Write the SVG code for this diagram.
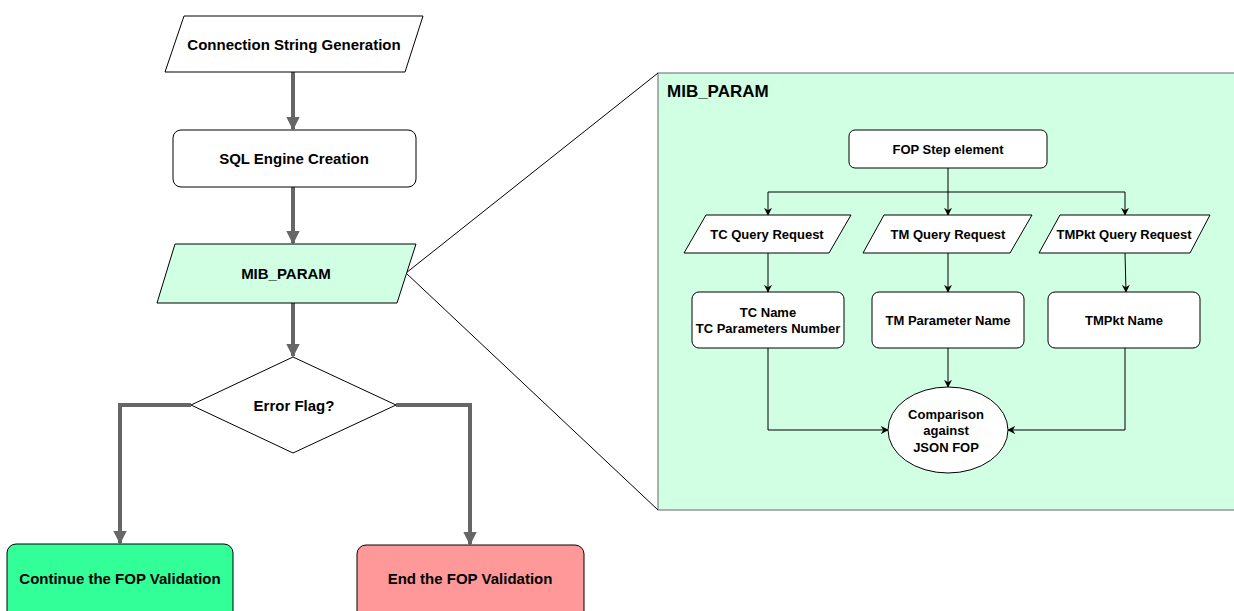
<svg xmlns="http://www.w3.org/2000/svg" width="1234" height="611" viewBox="0 0 1234 611">
  <style>
    .lbl { font-family: "Liberation Sans", Arial, sans-serif; font-weight: bold; fill: #000; text-anchor: middle; dominant-baseline: central; }
    .big { font-size: 15px; }
    .small { font-size: 13px; }
    .node { stroke: #000; stroke-width: 1; }
    .flow { fill: none; stroke: #666; stroke-width: 4; }
    .thin { fill: none; stroke: #000; stroke-width: 1; }
  </style>
  <defs>
    <marker id="thick" viewBox="0 0 10 10" refX="9" refY="5" markerWidth="3.4" markerHeight="3.4" markerUnits="strokeWidth" orient="auto">
      <path d="M0,0 L10,5 L0,10 Z" fill="#666"/>
    </marker>
    <marker id="small" viewBox="0 0 10 10" refX="9" refY="5" markerWidth="8" markerHeight="8" markerUnits="userSpaceOnUse" orient="auto">
      <path d="M0,0 L10,5 L0,10 L3,5 Z" fill="#000"/>
    </marker>
  </defs>
  <rect width="1234" height="611" fill="#fff"/>

  <!-- zoom panel (right edge runs off the canvas) -->
  <g id="panel">
    <rect x="658" y="73" width="590" height="437" fill="#d0ffe4" stroke="#666" stroke-width="1"/>
    <text class="lbl" x="667" y="91" style="font-size:17px;text-anchor:start">MIB_PARAM</text>
  </g>
  <g id="zoom-lines">
    <line x1="406" y1="273" x2="658" y2="73" stroke="#000" stroke-width="1"/>
    <line x1="406" y1="273" x2="658" y2="510" stroke="#000" stroke-width="1"/>
  </g>

  <!-- main flow connectors -->
  <g id="connectors">
    <line class="flow" x1="293" y1="72" x2="293" y2="129" marker-end="url(#thick)"/>
    <line class="flow" x1="293" y1="187" x2="293" y2="243" marker-end="url(#thick)"/>
    <line class="flow" x1="293" y1="303" x2="293" y2="356" marker-end="url(#thick)"/>
    <polyline class="flow" points="191,405 120,405 120,543" marker-end="url(#thick)"/>
    <polyline class="flow" points="396,405 470,405 470,544" marker-end="url(#thick)"/>

    <!-- panel connectors -->
    <line class="thin" x1="948" y1="168" x2="948" y2="192"/>
    <polyline class="thin" points="768,192 1125,192"/>
    <line class="thin" x1="768" y1="192" x2="768" y2="215" marker-end="url(#small)"/>
    <line class="thin" x1="948" y1="192" x2="948" y2="215" marker-end="url(#small)"/>
    <line class="thin" x1="1125" y1="192" x2="1125" y2="215" marker-end="url(#small)"/>
    <line class="thin" x1="768" y1="253" x2="768" y2="292" marker-end="url(#small)"/>
    <line class="thin" x1="948" y1="253" x2="948" y2="292" marker-end="url(#small)"/>
    <line class="thin" x1="1125" y1="253" x2="1126" y2="292" marker-end="url(#small)"/>
    <line class="thin" x1="948" y1="348" x2="948" y2="387" marker-end="url(#small)"/>
    <polyline class="thin" points="768,348 768,430 888,430" marker-end="url(#small)"/>
    <polyline class="thin" points="1125,348 1125,430 1008,430" marker-end="url(#small)"/>
  </g>

  <!-- main flow nodes -->
  <g id="conn-string">
    <polygon class="node" points="184,16 423,16 405,72 165,72" fill="#fff"/>
    <text class="lbl big" x="294" y="44">Connection String Generation</text>
  </g>
  <g id="sql-engine">
    <rect class="node" x="173" y="130" width="243" height="57" rx="8" fill="#fff"/>
    <text class="lbl big" x="294" y="158">SQL Engine Creation</text>
  </g>
  <g id="mib-param">
    <polygon class="node" points="175,244 416,244 397,303 157,303" fill="#d0ffe4"/>
    <text class="lbl big" x="286" y="273">MIB_PARAM</text>
  </g>
  <g id="error-flag">
    <polygon class="node" points="293,357 396,405 293,453 191,405" fill="#fff"/>
    <text class="lbl big" x="294" y="405">Error Flag?</text>
  </g>
  <g id="continue">
    <rect class="node" x="7" y="544" width="226" height="80" rx="9" fill="#33ff99"/>
    <text class="lbl big" x="120" y="578">Continue the FOP Validation</text>
  </g>
  <g id="end">
    <rect class="node" x="357" y="545" width="227" height="80" rx="9" fill="#ff9999"/>
    <text class="lbl big" x="470" y="578">End the FOP Validation</text>
  </g>

  <!-- panel nodes -->
  <g id="fop-step">
    <rect class="node" x="849" y="130" width="198" height="38" rx="6" fill="#fff"/>
    <text class="lbl small" x="948" y="149">FOP Step element</text>
  </g>
  <g id="tc-query">
    <polygon class="node" points="706,215 851,215 829,253 684,253" fill="#fff"/>
    <text class="lbl small" x="767" y="234">TC Query Request</text>
  </g>
  <g id="tm-query">
    <polygon class="node" points="884,215 1032,215 1010,253 863,253" fill="#fff"/>
    <text class="lbl small" x="948" y="234">TM Query Request</text>
  </g>
  <g id="tmpkt-query">
    <polygon class="node" points="1060,215 1210,215 1190,253 1039,253" fill="#fff"/>
    <text class="lbl small" x="1124" y="234">TMPkt Query Request</text>
  </g>
  <g id="tc-name">
    <rect class="node" x="692" y="292" width="152" height="56" rx="7" fill="#fff"/>
    <text class="lbl small" x="768" y="312">TC Name</text>
    <text class="lbl small" x="768" y="328">TC Parameters Number</text>
  </g>
  <g id="tm-name">
    <rect class="node" x="872" y="292" width="152" height="56" rx="7" fill="#fff"/>
    <text class="lbl small" x="948" y="320">TM Parameter Name</text>
  </g>
  <g id="tmpkt-name">
    <rect class="node" x="1048" y="292" width="152" height="56" rx="7" fill="#fff"/>
    <text class="lbl small" x="1124" y="320">TMPkt Name</text>
  </g>
  <g id="comparison">
    <ellipse class="node" cx="948" cy="430" rx="60" ry="43" fill="#fff"/>
    <text class="lbl small" x="946" y="414">Comparison</text>
    <text class="lbl small" x="946" y="430">against</text>
    <text class="lbl small" x="946" y="447">JSON FOP</text>
  </g>
</svg>
